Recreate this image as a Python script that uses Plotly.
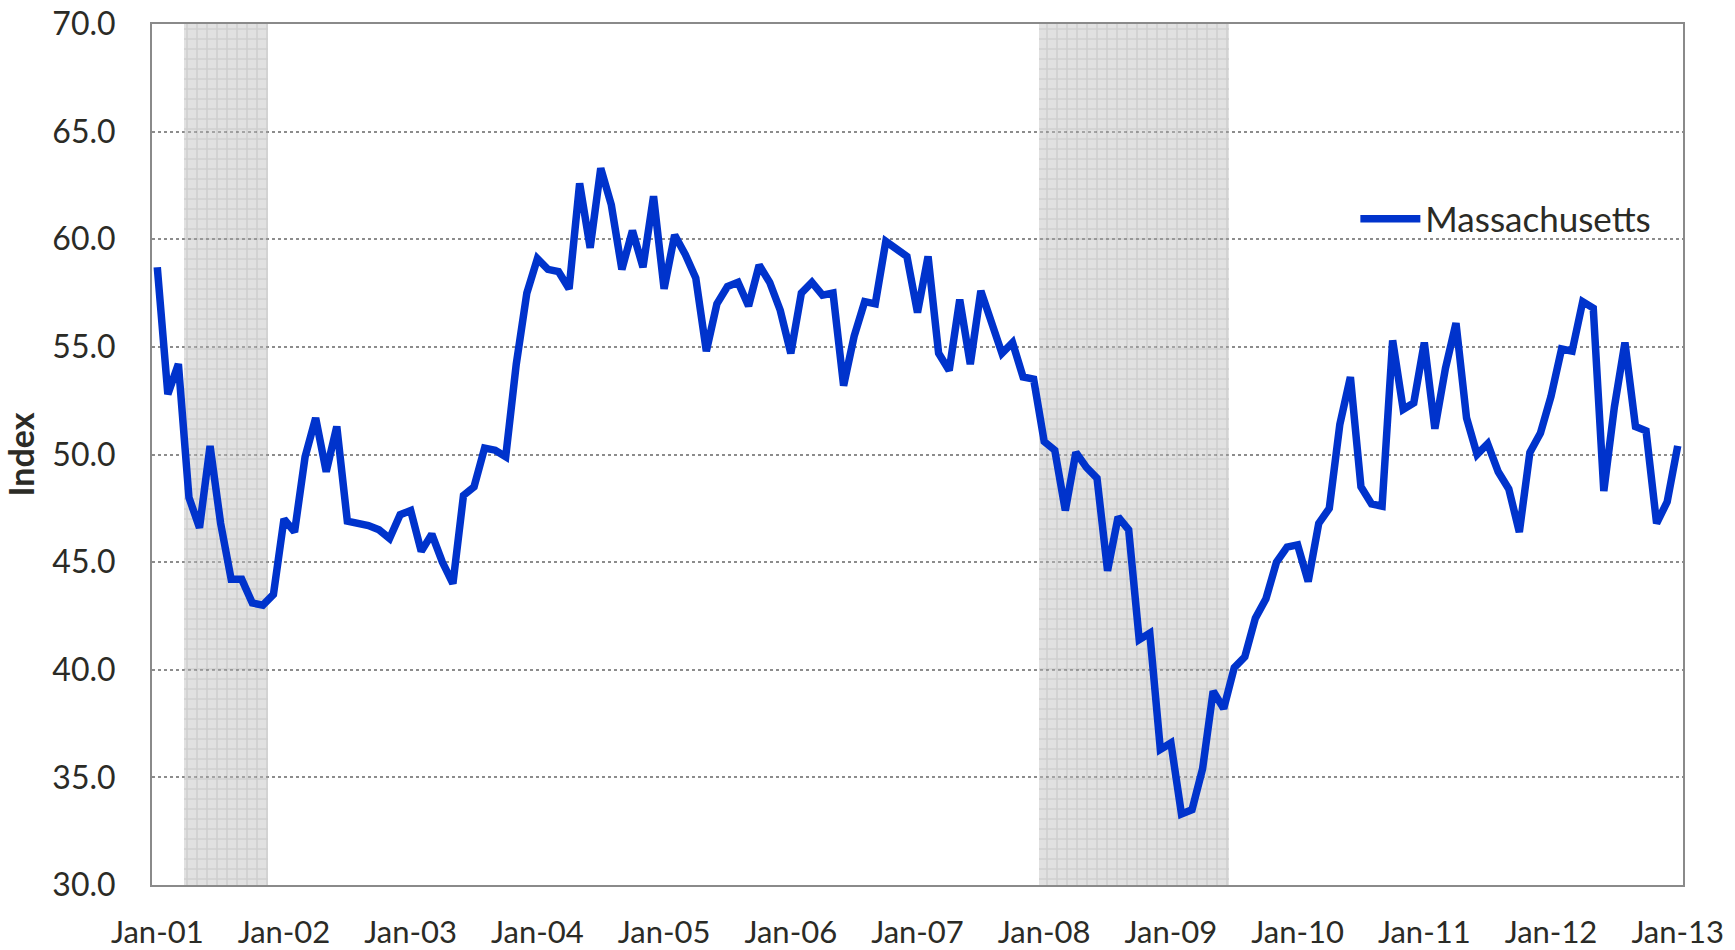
import pandas as pd
import plotly.graph_objects as go

# ---------------- data ----------------
months = pd.date_range("2001-01-01", "2013-01-01", freq="MS")
month_labels = [d.strftime("%b-%y") for d in months]

massachusetts = [
    # 2001
    58.7, 52.8, 54.2, 48.0, 46.6, 50.4, 46.8, 44.2, 44.2, 43.1, 43.0, 43.5,
    # 2002
    47.0, 46.4, 49.9, 51.7, 49.2, 51.3, 46.9, 46.8, 46.7, 46.5, 46.1, 47.2,
    # 2003
    47.4, 45.5, 46.3, 45.0, 44.0, 48.1, 48.5, 50.3, 50.2, 49.9, 54.2, 57.5,
    # 2004
    59.1, 58.6, 58.5, 57.7, 62.6, 59.6, 63.3, 61.6, 58.6, 60.4, 58.7, 62.0,
    # 2005
    57.7, 60.2, 59.3, 58.2, 54.8, 57.0, 57.8, 58.0, 56.9, 58.8, 58.0, 56.7,
    # 2006
    54.7, 57.5, 58.0, 57.4, 57.5, 53.2, 55.5, 57.1, 57.0, 59.9, 59.5, 59.2,
    # 2007
    56.6, 59.2, 54.7, 53.9, 57.2, 54.2, 57.6, 56.2, 54.7, 55.2, 53.6, 53.5,
    # 2008
    50.6, 50.2, 47.4, 50.1, 49.4, 48.9, 44.6, 47.1, 46.5, 41.4, 41.7, 36.3,
    # 2009
    36.6, 33.3, 33.5, 35.4, 39.0, 38.2, 40.1, 40.6, 42.4, 43.3, 45.0, 45.7,
    # 2010
    45.8, 44.1, 46.8, 47.5, 51.4, 53.6, 48.5, 47.7, 47.6, 55.3, 52.1, 52.4,
    # 2011
    55.2, 51.2, 54.0, 56.1, 51.7, 50.0, 50.5, 49.2, 48.4, 46.4, 50.1, 51.0,
    # 2012
    52.7, 54.9, 54.8, 57.1, 56.8, 48.3, 52.2, 55.2, 51.3, 51.1, 46.8, 47.8,
    # 2013
    50.4,
]

recessions = [("Apr-01", "Nov-01"), ("Jan-08", "Jun-09")]

tick_labels = ["Jan-01", "Jan-02", "Jan-03", "Jan-04", "Jan-05", "Jan-06", "Jan-07",
               "Jan-08", "Jan-09", "Jan-10", "Jan-11", "Jan-12", "Jan-13"]
y_ticks = [30, 35, 40, 45, 50, 55, 60, 65, 70]
y_range = [30, 70]

# ---------------- figure ----------------
FONT = "Lato, 'Open Sans', sans-serif"
TEXT = "#2b2b26"

x_idx = list(range(len(month_labels)))

rec_center, rec_width, rec_height = [], [], []
for start, end in recessions:
    s = month_labels.index(start)
    e = month_labels.index(end)
    rec_center.append((s + e) / 2)
    rec_width.append(e - s + 1)
    rec_height.append(y_range[1] - y_range[0])

fig = go.Figure()

fig.add_trace(go.Bar(
    x=rec_center, y=rec_height, base=y_range[0], width=rec_width,
    marker=dict(color="#c0c0c0",
                line=dict(width=0),
                pattern=dict(shape="+", fgcolor="#9a9a9a", bgcolor="#c0c0c0",
                             size=10, solidity=0.3, fillmode="replace")),
    opacity=0.47, showlegend=False, hoverinfo="skip",
))

fig.add_trace(go.Scatter(
    x=x_idx, y=massachusetts, mode="lines", name="Massachusetts",
    line=dict(color="#0033cc", width=7.5),
))

fig.update_layout(
    width=1735, height=950,
    margin=dict(l=152, r=52, t=24, b=65),
    paper_bgcolor="white", plot_bgcolor="white",
    font=dict(family=FONT, color=TEXT, size=31),
    bargap=0,
    showlegend=True,
    legend=dict(x=0.786, y=0.7735, xanchor="left", yanchor="middle",
                itemwidth=60,
                bgcolor="rgba(0,0,0,0)", font=dict(size=35, family=FONT, color=TEXT)),
    xaxis=dict(
        range=[-0.5, len(month_labels) - 0.5],
        tickvals=[month_labels.index(t) for t in tick_labels],
        ticktext=tick_labels,
        showgrid=False, zeroline=False, automargin=False,
        showline=True, linecolor="#8a8a8a", linewidth=2, mirror=True,
        ticks="", ticklabelstandoff=19,
        tickfont=dict(size=31, family=FONT, color=TEXT),
    ),
    yaxis=dict(
        range=y_range,
        tickvals=y_ticks, tickformat=".1f", automargin=False,
        showgrid=True, gridcolor="#8c8c8c", gridwidth=1.5, griddash="dot",
        zeroline=False,
        showline=True, linecolor="#8a8a8a", linewidth=2, mirror=True,
        ticks="", ticklabelstandoff=28,
        tickfont=dict(size=32, family=FONT, color=TEXT),
        title=dict(text="Index", standoff=8,
                   font=dict(size=34, family=FONT, color=TEXT, weight="bold")),
    ),
)

fig.write_html("out.html", config={"displayModeBar": False},
               post_script="document.body.style.margin='0';")
